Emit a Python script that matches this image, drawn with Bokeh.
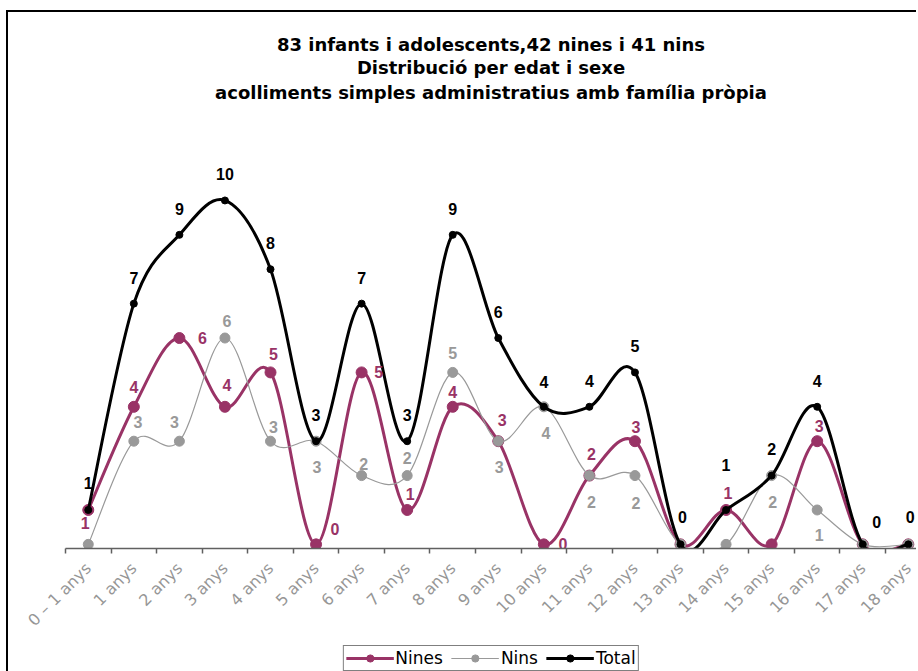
import math
from bokeh.plotting import figure
from bokeh.layouts import column
from bokeh.models import Range1d, FixedTicker, ColumnDataSource, Legend, LegendItem, Title
from bokeh.core.properties import value
from bokeh.embed import file_html
from bokeh.resources import INLINE

# ---------------- data ----------------
categories = ["0 – 1 anys", "1 anys", "2 anys", "3 anys", "4 anys", "5 anys", "6 anys",
              "7 anys", "8 anys", "9 anys", "10 anys", "11 anys", "12 anys", "13 anys",
              "14 anys", "15 anys", "16 anys", "17 anys", "18 anys"]
nines = [1, 4, 6, 4, 5, 0, 5, 1, 4, 3, 0, 2, 3, 0, 1, 0, 3, 0, 0]
nins = [0, 3, 3, 6, 3, 3, 2, 2, 5, 3, 4, 2, 2, 0, 0, 2, 1, 0, 0]
total = [1, 7, 9, 10, 8, 3, 7, 3, 9, 6, 4, 4, 5, 0, 1, 2, 4, 0, 0]

title_lines = ["83 infants i adolescents,42 nines i 41 nins",
               "Distribució per edat i sexe",
               "acolliments simples administratius amb família pròpia"]

# ---------------- label styling (screen offsets, px; +y = down) ----------------
nines_dx = [-3, 0, 23, 2, 3, 19, 17, 3, 0, 4, 19, 2, 1, 0, 2, 0, 2, 0, 0]
nines_dy = [13, -20, 0, -22, -18, -15, 0, -16, -15, -21, 0, -22, -14, 0, -17, 0, -15, 0, 0]
nines_show = [1, 1, 1, 1, 1, 1, 1, 1, 1, 1, 1, 1, 1, 0, 1, 0, 1, 0, 0]

nins_dx = [0, 4, -5, 2, 3, 1, 2, 0, 0, 1, 2, 2, 1, 0, 0, 1, 2, 0, 0]
nins_dy = [0, -19, -19, -17, -14, 26, -12, -18, -19, 26, 26, 26, 27, 0, 0, 26, 25, 0, 0]
nins_show = [0, 1, 1, 1, 1, 1, 1, 1, 1, 1, 1, 1, 1, 0, 0, 1, 1, 0, 0]

total_dx = [0, 0, 0, 0, 0, 0, 0, 0, 0, 0, 0, 0, 0, 2, 0, 0, 0, 14, 2]
total_dy = [-27, -26, -26, -26, -26, -26, -26, -26, -26, -26, -25, -26, -26, -27, -45, -27, -26, -22, -27]
total_show = [1] * 19

MAROON = "#993366"
GRAY = "#999999"
BLACK = "#000000"

xs = list(range(len(categories)))


def bezier_source(ys):
    n = len(ys)
    d = dict(x0=[], y0=[], x1=[], y1=[], cx0=[], cy0=[], cx1=[], cy1=[])
    for i in range(n - 1):
        a = max(i - 1, 0)
        b = min(i + 2, n - 1)
        d["x0"].append(xs[i]); d["y0"].append(ys[i])
        d["x1"].append(xs[i + 1]); d["y1"].append(ys[i + 1])
        d["cx0"].append(xs[i] + (xs[i + 1] - xs[a]) / 6.0)
        d["cy0"].append(ys[i] + (ys[i + 1] - ys[a]) / 6.0)
        d["cx1"].append(xs[i + 1] - (xs[b] - xs[i]) / 6.0)
        d["cy1"].append(ys[i + 1] - (ys[b] - ys[i]) / 6.0)
    return ColumnDataSource(d)


def label_source(ys, dx, dy, show):
    d = dict(x=[], y=[], t=[], dx=[], dy=[])
    for i, v in enumerate(ys):
        if show[i]:
            d["x"].append(xs[i]); d["y"].append(v); d["t"].append(str(v))
            d["dx"].append(dx[i]); d["dy"].append(dy[i])
    return ColumnDataSource(d)


p = figure(width=908, height=633, output_backend="svg", toolbar_location=None,
           x_range=Range1d(-0.5, 18.18), y_range=Range1d(-0.12, 12.79),
           min_border_left=57, min_border_right=0, min_border_top=92, min_border_bottom=97)
p.outline_line_color = None
p.xgrid.visible = False
p.ygrid.visible = False
p.yaxis.visible = False
p.background_fill_color = "white"
p.border_fill_color = "white"
p.title.visible = False

for k, line in enumerate(reversed(title_lines)):
    p.add_layout(Title(text=line, align="center", text_font="DejaVu Sans", text_font_size="18px",
                       text_font_style="bold", text_color="black",
                       standoff=(4 if k == 0 else 0)), "above")

ax = p.xaxis[0]
ax.ticker = FixedTicker(ticks=xs, minor_ticks=[x - 0.5 for x in xs] + [len(xs) - 0.5])
ax.major_label_overrides = {i: c for i, c in enumerate(categories)}
ax.major_label_orientation = math.pi / 4
ax.major_tick_in = 0
ax.major_tick_out = 0
ax.minor_tick_in = 0
ax.minor_tick_out = 5
ax.minor_tick_line_color = "#606060"
ax.axis_line_color = "#606060"
ax.axis_line_width = 1.5
ax.minor_tick_line_width = 1.5
ax.major_label_text_color = "#969696"
ax.major_label_text_font = "DejaVu Sans"
ax.major_label_text_font_size = "16px"
ax.major_label_standoff = 12

series = [
    ("Nines", nines, MAROON, 3, 11, MAROON, nines_dx, nines_dy, nines_show),
    ("Nins", nins, GRAY, 1.2, 10, GRAY, nins_dx, nins_dy, nins_show),
    ("Total", total, BLACK, 3, 7, BLACK, total_dx, total_dy, total_show),
]

# legend strip below the chart
lg = figure(width=908, height=26, output_backend="svg", toolbar_location=None,
            x_range=Range1d(0, 1), y_range=Range1d(0, 1),
            min_border=0, outline_line_color=None)
lg.xaxis.visible = False
lg.yaxis.visible = False
lg.xgrid.visible = False
lg.ygrid.visible = False

items = []
label_specs = []
for name, ys, col, lw, ms, tcol, dx, dy, show in series:
    p.bezier(x0="x0", y0="y0", x1="x1", y1="y1", cx0="cx0", cy0="cy0", cx1="cx1", cy1="cy1",
             source=bezier_source(ys), line_color=col, line_width=lw, line_cap="round")
    p.scatter(x=xs, y=ys, size=ms, marker="circle", fill_color=col, line_color=col, line_width=1)
    dl = lg.line(x=[float("nan")], y=[float("nan")], line_color=col, line_width=lw)
    ds = lg.scatter(x=[float("nan")], y=[float("nan")], size=ms - 1, marker="circle",
                    fill_color=col, line_color=col)
    items.append(LegendItem(label=name, renderers=[dl, ds]))
    label_specs.append((ys, dx, dy, show, tcol))

for ys, dx, dy, show, tcol in label_specs:
    p.text(x="x", y="y", text="t", x_offset="dx", y_offset="dy", source=label_source(ys, dx, dy, show),
           text_align="center", text_baseline="middle", text_color=tcol,
           text_font=value("Liberation Sans"), text_font_style="bold", text_font_size="16px")

legend = Legend(items=items, orientation="horizontal", location="top_center",
                label_text_font="DejaVu Sans", label_text_font_size="17px",
                label_text_color="black", glyph_width=48, glyph_height=18,
                label_standoff=2, spacing=8, padding=2, margin=0,
                border_line_color="black", border_line_width=1, background_fill_alpha=1)
lg.add_layout(legend, "center")

layout = column(p, lg, spacing=0,
                styles={"border-left": "2px solid black", "border-top": "2px solid black",
                        "margin-left": "6px", "margin-top": "10px"})
open("out.html", "w").write(file_html(layout, INLINE))
